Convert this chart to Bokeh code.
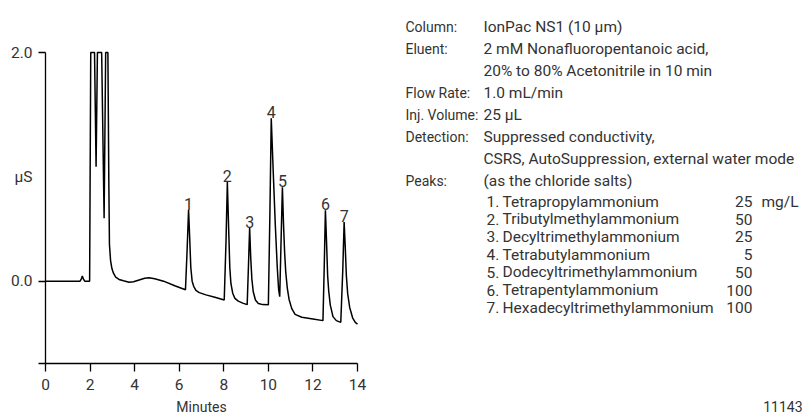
from bokeh.plotting import figure
from bokeh.models import Range1d, FixedTicker, CustomJSTickFormatter, LinearAxis, ColumnDataSource
from bokeh.embed import file_html
from bokeh.resources import INLINE
from bokeh.core.properties import value

# ---------------- data ----------------
time_min = [0.00, 1.55, 1.61, 1.65, 1.70, 1.76, 1.98,
            2.03, 2.20, 2.27, 2.33, 2.52, 2.63, 2.70, 2.80,
            2.84, 2.87, 2.92, 2.98, 3.05, 3.15, 3.30, 3.50, 3.75, 3.95,
            4.20, 4.45, 4.65, 4.90, 5.30, 5.80, 6.28,
            6.35, 6.42, 6.47, 6.52, 6.58, 6.65, 6.75, 6.90, 7.20, 7.60, 8.02,
            8.10, 8.16, 8.22, 8.27, 8.32, 8.40, 8.50, 8.65, 8.85, 9.05,
            9.11, 9.16, 9.21, 9.26, 9.32, 9.42, 9.55, 9.75, 10.00,
            10.07, 10.13, 10.22, 10.31, 10.40, 10.46, 10.51,
            10.57, 10.63, 10.68, 10.73, 10.78, 10.85, 10.93, 11.05, 11.20, 11.50, 12.00, 12.45,
            12.51, 12.56, 12.61, 12.66, 12.71, 12.78, 12.90, 13.05, 13.25,
            13.34, 13.40, 13.45, 13.50, 13.56, 13.65, 13.78, 13.90, 14.00]
signal_us = [0.000, 0.000, 0.020, 0.045, 0.020, 0.000, 0.000,
             2.000, 2.000, 1.000, 2.000, 2.000, 0.550, 2.000, 2.000,
             0.900, 0.320, 0.180, 0.110, 0.070, 0.035, 0.015, 0.003, -0.010, -0.005,
             0.010, 0.025, 0.030, 0.022, 0.000, -0.040, -0.075,
             0.250, 0.625, 0.380, 0.120, 0.000, -0.045, -0.080, -0.100, -0.120, -0.140, -0.165,
             0.350, 0.868, 0.450, 0.120, -0.020, -0.105, -0.150, -0.175, -0.192, -0.205,
             0.150, 0.468, 0.200, 0.020, -0.090, -0.165, -0.195, -0.205, -0.207,
             0.600, 1.425, 0.950, 0.500, 0.120, -0.070, -0.135,
             0.350, 0.822, 0.500, 0.250, 0.080, -0.060, -0.160, -0.240, -0.290, -0.315, -0.330, -0.345,
             0.150, 0.620, 0.350, 0.050, -0.090, -0.210, -0.310, -0.345, -0.360,
             0.100, 0.518, 0.300, 0.050, -0.110, -0.230, -0.320, -0.360, -0.375]

peak_numbers = ["1", "2", "3", "4", "5", "6", "7"]
peak_time = [6.42, 8.16, 9.16, 10.13, 10.63, 12.56, 13.40]
peak_height = [0.625, 0.868, 0.468, 1.425, 0.822, 0.620, 0.518]

x_min, x_max = 0.0, 14.0
y_min, y_max = -0.72, 2.0
x_ticks = [0, 2, 4, 6, 8, 10, 12, 14]
y_ticks = [-0.72, 0.0, 2.0]
y_label_ticks = [0.0, 0.915, 2.0]   # "0.0", "µS", "2.0"
y_unit = "\u00b5S"
x_title = "Minutes"

condition_labels = ["Column:", "Eluent:", "", "Flow Rate:", "Inj. Volume:",
                    "Detection:", "", "Peaks:"]
condition_values = ["IonPac NS1 (10 \u00b5m)", "2 mM Nonafluoropentanoic acid,",
                    "20% to 80% Acetonitrile in 10 min", "1.0 mL/min", "25 \u00b5L",
                    "Suppressed conductivity,", "CSRS, AutoSuppression, external water mode",
                    "(as the chloride salts)"]
analyte_numbers = ["1.", "2.", "3.", "4.", "5.", "6.", "7."]
analyte_names = ["Tetrapropylammonium", "Tributylmethylammonium", "Decyltrimethylammonium",
                 "Tetrabutylammonium", "Dodecyltrimethylammonium", "Tetrapentylammonium",
                 "Hexadecyltrimethylammonium"]
analyte_amounts = ["25", "50", "25", "5", "50", "100", "100"]
amount_unit = "mg/L"
figure_id = "11143"

# ---------------- layout ----------------
FONT = "Roboto"
TXT = "#333333"
FS = "15.5px"
W, H = 802, 419
LEFT = 45          # page x of t = 0
Y2_PX = 52         # page y of 2.0 µS
BOTTOM = 363       # page y of the x axis
SX = 312 / (x_max - x_min)
SY = (BOTTOM - Y2_PX) / (y_max - y_min)

p = figure(width=W, height=H, output_backend="svg", toolbar_location=None,
           x_range=Range1d(x_min, x_min + (W - LEFT) / SX),
           y_range=Range1d(y_min, y_max + Y2_PX / SY),
           min_border_left=LEFT, min_border_right=0, min_border_top=0,
           min_border_bottom=H - BOTTOM)
p.title.visible = False
p.outline_line_color = None
p.grid.visible = False
p.extra_x_ranges = {"px": Range1d(LEFT, W)}
p.extra_y_ranges = {"px": Range1d(BOTTOM, 0)}

# trace
p.line(time_min, signal_us, line_color="black", line_width=1.5)

# peak numbers
src = ColumnDataSource(dict(x=peak_time, y=peak_height, t=peak_numbers))
p.text(x="x", y="y", text="t", source=src, text_align="center",
       text_baseline="alphabetic", y_offset=-6, text_font=value(FONT),
       text_font_size=value("16px"), text_color=TXT)

# axes
xa, ya = p.xaxis[0], p.yaxis[0]
for ax in (xa, ya):
    ax.axis_line_color = "black"
    ax.axis_line_width = 1.3
    ax.major_tick_line_color = "black"
    ax.major_tick_line_width = 1.3
    ax.major_tick_in = 0
    ax.minor_tick_line_color = None
    ax.major_label_text_font = FONT
    ax.major_label_text_font_size = FS
    ax.major_label_text_color = TXT

xa.ticker = FixedTicker(ticks=x_ticks)
xa.bounds = (x_min, x_max)
xa.major_tick_out = 8
xa.major_label_standoff = 7

ya.ticker = FixedTicker(ticks=y_ticks)
ya.bounds = (y_min, y_max)
ya.major_tick_out = 7
ya.major_label_standoff = 0
ya.formatter = CustomJSTickFormatter(code="return '';")

def bare_axis(ax, size):
    ax.axis_line_color = None
    ax.major_tick_line_color = None
    ax.minor_tick_line_color = None
    ax.major_tick_in = 0
    ax.major_tick_out = 0
    ax.major_label_text_font = FONT
    ax.major_label_text_font_size = size
    ax.major_label_text_color = TXT

lab_axis = LinearAxis(ticker=FixedTicker(ticks=y_label_ticks),
                      formatter=CustomJSTickFormatter(
                          args=dict(unit=y_unit),
                          code="return (tick > 0.5 && tick < 1.5) ? unit : tick.toFixed(1);"))
bare_axis(lab_axis, FS)
lab_axis.major_label_standoff = 6
p.add_layout(lab_axis, "left")

# second row under the time axis: "Minutes" centred on the axis, figure id at right
id_pos = x_min + (784 - LEFT) / SX
bottom_axis = LinearAxis(ticker=FixedTicker(ticks=[(x_min + x_max) / 2, id_pos]),
                         formatter=CustomJSTickFormatter(
                             args=dict(title=x_title, fid=figure_id, lim=x_max),
                             code="return tick <= lim ? title : fid;"))
bare_axis(bottom_axis, "14px")
bottom_axis.major_label_standoff = 6
p.add_layout(bottom_axis, "below")

# ---------------- right-hand text panel (page-pixel coordinates) ----------------
def txt(xs, ys, texts, align="left", size=FS):
    p.text(x=xs, y=ys, text=texts, text_align=align, text_baseline="middle",
           text_font=value(FONT), text_font_size=value(size), text_color=TXT,
           x_range_name="px", y_range_name="px")

hdr_y = [26 + 22 * i for i in range(len(condition_labels))]
txt([405] * len(hdr_y), hdr_y, condition_labels, size="14px")
txt([483] * len(hdr_y), hdr_y, condition_values)

lst_y = [201 + 17.7 * j for j in range(len(analyte_names))]
txt([486] * len(lst_y), lst_y, analyte_numbers)
txt([502] * len(lst_y), lst_y, analyte_names)
txt([752] * len(lst_y), lst_y, analyte_amounts, align="right")
txt([761], [lst_y[0]], [amount_unit])

open("out.html", "w").write(file_html(p, INLINE))
